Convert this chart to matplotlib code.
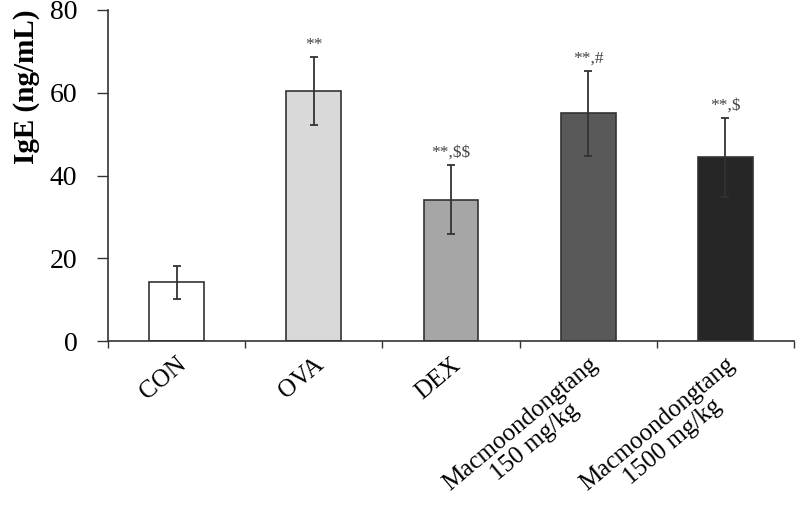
import matplotlib
matplotlib.use("Agg")
import matplotlib.pyplot as plt
import numpy as np

categories = ["CON", "OVA", "DEX", "Macmoondongtang\n150 mg/kg", "Macmoondongtang\n1500 mg/kg"]
values = [14.2, 60.3, 34.2, 55.0, 44.4]
errors = [4.0, 8.2, 8.3, 10.3, 9.6]
annotations = ["", "**", "**,$$", "**,#", "**,$"]
colors = ["#ffffff", "#d9d9d9", "#a6a6a6", "#595959", "#262626"]

plt.rcParams['font.family'] = ['Liberation Serif', 'DejaVu Serif']
plt.rcParams['mathtext.default'] = 'regular'

fig = plt.figure(figsize=(8, 5.2), dpi=100)
ax = fig.add_axes([0.135, 0.344, 0.8575, 0.637])

x = np.arange(len(categories))
ax.bar(x, values, width=0.4, color=colors, edgecolor="#333333", linewidth=1.2,
       yerr=errors, error_kw=dict(ecolor="#333333", elinewidth=1.3, capsize=3, capthick=1.3),
       zorder=2)

for xi, v, e, a in zip(x, values, errors, annotations):
    if a:
        ax.text(xi, v + e + 1.0, a.replace("$", r"\$"), ha="center", va="bottom",
                fontsize=12.5, color="#444444")

ax.set_xlim(-0.5, 4.5)
ax.set_ylim(0, 80)
ax.set_yticks([0, 20, 40, 60, 80])
ax.tick_params(axis="y", labelsize=20, direction="out", length=8, width=1, pad=14,
               colors="#333333", labelcolor="black")

ax.set_xticks(x)
ax.set_xticklabels(categories, rotation=40, ha="right", rotation_mode="anchor",
                   fontsize=18, multialignment="center", linespacing=1.05)
ax.tick_params(axis="x", which="major", length=0, pad=9)
ax.set_xticks(np.arange(-0.5, 4.6, 1.0), minor=True)
ax.tick_params(axis="x", which="minor", length=5, direction="out", width=1, color="#333333")

for s in ["top", "right"]:
    ax.spines[s].set_visible(False)
for s in ["left", "bottom"]:
    ax.spines[s].set_color("#333333")
    ax.spines[s].set_linewidth(1.2)

ax.set_ylabel("IgE (ng/mL)", fontsize=21, fontweight="bold")
ax.yaxis.set_label_coords(-0.099, 0.767)

fig.savefig("out.png", dpi=100)
